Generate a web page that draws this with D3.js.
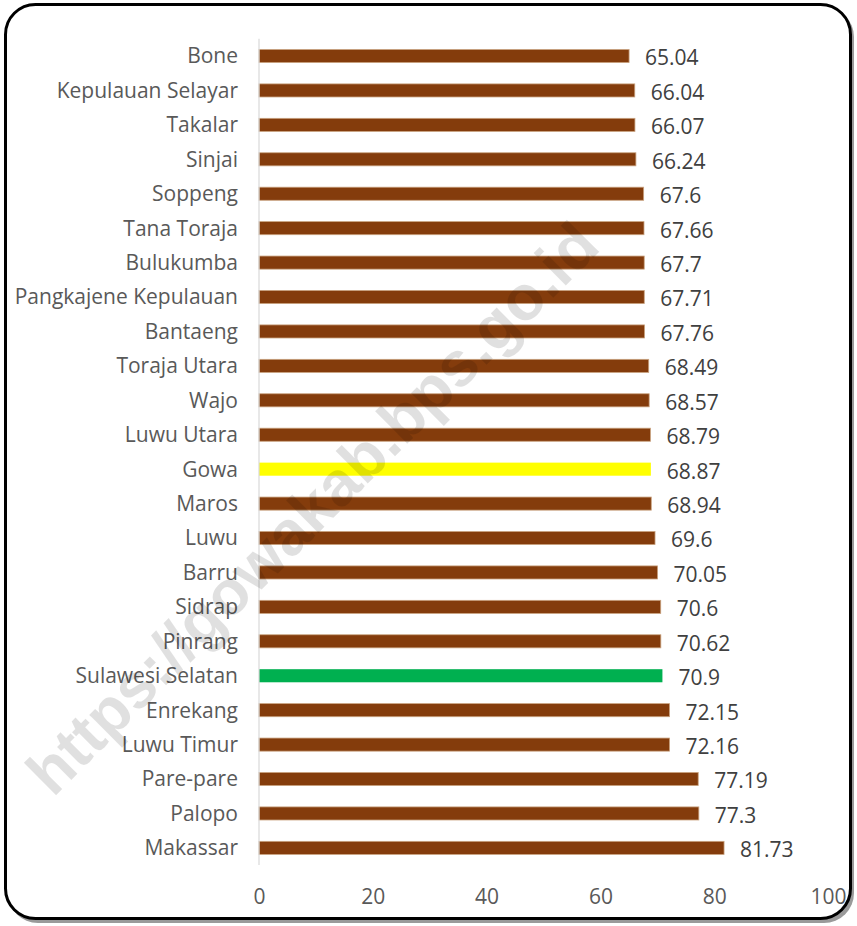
<!DOCTYPE html>
<html>
<meta charset="utf-8">
<head>
  <title>Horizontal bars</title>
</head>

<style>
body { margin: 0; background: white; }
text {
  font-family: "Open Sans", sans-serif;
}
.cat { fill: #595959; font-size: 21px; text-anchor: end; }
.val { fill: #404040; font-size: 21px; }
.tick text { fill: #595959; font-size: 21px; }
</style>

<body>
  <svg width="857" height="926"></svg>

  <script src="https://cdnjs.cloudflare.com/ajax/libs/d3/7.8.5/d3.min.js"></script>
  <script>
var regions = ["Bone", "Kepulauan Selayar", "Takalar", "Sinjai", "Soppeng", "Tana Toraja",
  "Bulukumba", "Pangkajene Kepulauan", "Bantaeng", "Toraja Utara", "Wajo", "Luwu Utara",
  "Gowa", "Maros", "Luwu", "Barru", "Sidrap", "Pinrang", "Sulawesi Selatan", "Enrekang",
  "Luwu Timur", "Pare-pare", "Palopo", "Makassar"];
var values = [65.04, 66.04, 66.07, 66.24, 67.6, 67.66, 67.7, 67.71, 67.76, 68.49, 68.57, 68.79,
  68.87, 68.94, 69.6, 70.05, 70.6, 70.62, 70.9, 72.15, 72.16, 77.19, 77.3, 81.73];
var xTicks = [0, 20, 40, 60, 80, 100];

var data = regions.map(function(r, i) { return {name: r, value: values[i]}; });

var svg = d3.select('svg');

// frame with shadow
svg.append('rect')
  .attr('x', 8).attr('y', 7).attr('width', 846).attr('height', 916)
  .attr('rx', 30)
  .attr('fill', '#9a9a9a');
svg.append('rect')
  .attr('x', 5.5).attr('y', 4.5).attr('width', 845).attr('height', 914)
  .attr('rx', 30)
  .attr('fill', 'white').attr('stroke', 'black').attr('stroke-width', 3);

var x = d3.scaleLinear().domain([0, 100]).range([259, 828]);
var y = d3.scaleBand().domain(regions).range([38.8, 865.1])
  .paddingInner(0.62).paddingOuter(0.31);

function barColor(d) {
  if (d.name === 'Gowa') return '#ffff00';
  if (d.name === 'Sulawesi Selatan') return '#00b050';
  return '#843c0c';
}

svg.append('g')
  .selectAll('rect')
  .data(data)
  .enter()
  .append('rect')
  .attr('x', x(0))
  .attr('y', function(d) { return y(d.name); })
  .attr('width', function(d) { return x(d.value) - x(0); })
  .attr('height', y.bandwidth())
  .attr('fill', barColor)
  .attr('stroke', function(d) { return d.name === 'Gowa' || d.name === 'Sulawesi Selatan' ? 'none' : '#c9a27f'; })
  .attr('stroke-width', 0.8);

// vertical axis line
svg.append('line')
  .attr('x1', x(0)).attr('x2', x(0))
  .attr('y1', y.range()[0]).attr('y2', y.range()[1])
  .attr('stroke', '#d9d9d9').attr('stroke-width', 1.2);

svg.append('g')
  .selectAll('text')
  .data(data)
  .enter()
  .append('text')
  .attr('class', 'cat')
  .attr('x', 238)
  .attr('y', function(d) { return y(d.name) + y.bandwidth() / 2; })
  .attr('dy', '0.35em')
  .text(function(d) { return d.name; });

svg.append('g')
  .selectAll('text')
  .data(data)
  .enter()
  .append('text')
  .attr('class', 'val')
  .attr('x', function(d) { return x(d.value) + 16; })
  .attr('y', function(d) { return y(d.name) + y.bandwidth() / 2 + 2; })
  .attr('dy', '0.35em')
  .text(function(d) { return d.value; });

var xAxis = svg.append('g')
  .attr('transform', 'translate(0,' + 887 + ')')
  .call(d3.axisBottom(x).tickValues(xTicks).tickSize(0).tickPadding(2));
xAxis.select('.domain').remove();

// watermark
svg.append('text')
  .attr('transform', 'translate(312,508) rotate(-45)')
  .attr('text-anchor', 'middle')
  .attr('dy', '0.35em')
  .style('font-family', '"Liberation Sans", Arial, sans-serif')
  .style('font-weight', 'bold')
  .style('font-size', '63px')
  .attr('fill', 'black')
  .attr('fill-opacity', 0.12)
  .text('https://gowakab.bps.go.id');
  </script>
</body>
</html>
